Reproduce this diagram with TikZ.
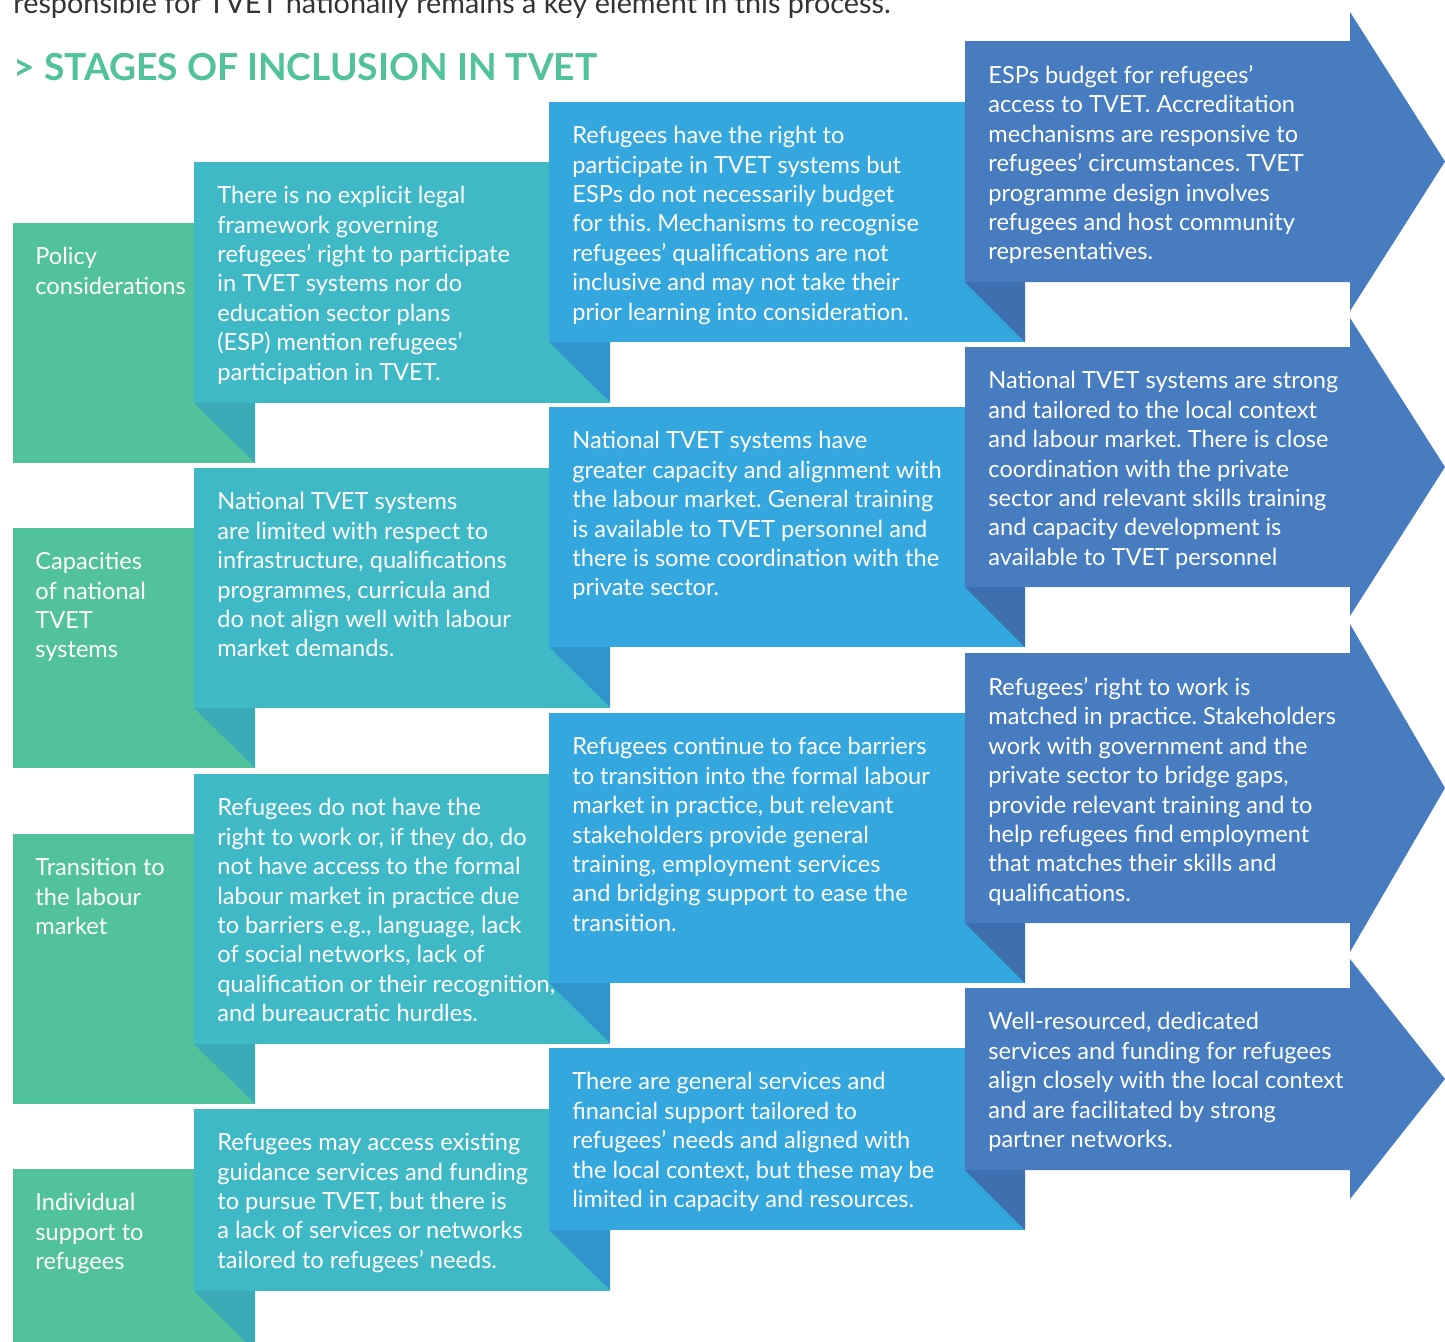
\documentclass[tikz,border=0pt]{standalone}
\usepackage{fontspec}
\setmainfont{Lato}
\frenchspacing
\usetikzlibrary{arrows}
\definecolor{lgreen}{HTML}{52C29B}
\definecolor{lteal}{HTML}{40B9C7}
\definecolor{dteal}{HTML}{3AABB7}
\definecolor{lblue}{HTML}{33A7DE}
\definecolor{dblue}{HTML}{2F95CB}
\definecolor{lnavy}{HTML}{477CC0}
\definecolor{dnavy}{HTML}{3E70B0}
\tikzstyle{txt}=[anchor=north west, align=left, inner sep=0pt, text=white, font=\fontsize{11.8}{14.7}\selectfont]

\begin{document}
\begin{tikzpicture}[x=0.5pt,y=-0.5pt]
\useasboundingbox (0,0) rectangle (1445,1341);
\node[anchor=base west, inner sep=0pt, text=black!80, font=\fontsize{14.4}{17}\selectfont] (intro) at (13,13) {responsible for TVET nationally remains a key element in this process.};
\node[anchor=base west, inner sep=0pt, text=lgreen, font=\fontsize{18.6}{22}\selectfont\bfseries] (title) at (13,80) {> STAGES OF INCLUSION IN TVET};
% green column
\foreach \t/\b in {223/463,528/768,834/1104,1169/1400}
\fill[lgreen] (13,\t) rectangle (255,\b);
% teal column, with the folds
\foreach \t/\b in {162/403,468/708,774/1044,1109/1291}{
\fill[lteal] (194,\t) rectangle (610,\b);
\fill[dteal] (194,\b) -- (255,\b) -- (255,\b+60) -- cycle;}
% blue column
\foreach \t/\b in {102/342,407/647,713/983,1048/1230}{
\fill[lblue] (549,\t) rectangle (1025,\b);
\fill[dblue] (549,\b) -- (610,\b) -- (610,\b+60) -- cycle;}
% arrows on the right
\foreach \t/\b in {41/282,347/587,653/923,988/1170}{
\fill[lnavy] (965,\t) -- (1350,\t) -- (1350,\t-29) -- (1445,{(\t+\b)/2}) -- (1350,\b+29) -- (1350,\b) -- (965,\b) -- cycle;
\fill[dnavy] (965,\b) -- (1025,\b) -- (1025,\b+60) -- cycle;}

\node[txt] (p1) at (35,247) {Policy\\considerations};
\node[txt] (c1) at (35,552) {Capacities\\of national\\TVET\\systems};
\node[txt] (t1) at (35,858) {Transition to\\the labour\\market};
\node[txt] (i1) at (35,1193) {Individual\\support to\\refugees};

\node[txt] (p2) at (217,186) {There is no explicit legal\\framework governing\\refugees’ right to participate\\in TVET systems nor do\\education sector plans\\(ESP) mention refugees’\\participation in TVET.};
\node[txt] (c2) at (217,492) {National TVET systems\\are limited with respect to\\infrastructure, qualifications\\programmes, curricula and\\do not align well with labour\\market demands.};
\node[txt] (t2) at (217,798) {Refugees do not have the\\right to work or, if they do, do\\not have access to the formal\\labour market in practice due\\to barriers e.g., language, lack\\of social networks, lack of\\qualification or their recognition,\\and bureaucratic hurdles.};
\node[txt] (i2) at (217,1133) {Refugees may access existing\\guidance services and funding\\to pursue TVET, but there is\\a lack of services or networks\\tailored to refugees’ needs.};

\node[txt] (p3) at (572,126) {Refugees have the right to\\participate in TVET systems but\\ESPs do not necessarily budget\\for this. Mechanisms to recognise\\refugees’ qualifications are not\\inclusive and may not take their\\prior learning into consideration.};
\node[txt] (c3) at (572,431) {National TVET systems have\\greater capacity and alignment with\\the labour market. General training\\is available to TVET personnel and\\there is some coordination with the\\private sector.};
\node[txt] (t3) at (572,737) {Refugees continue to face barriers\\to transition into the formal labour\\market in practice, but relevant\\stakeholders provide general\\training, employment services\\and bridging support to ease the\\transition.};
\node[txt] (i3) at (572,1072) {There are general services and\\financial support tailored to\\refugees’ needs and aligned with\\the local context, but these may be\\limited in capacity and resources.};

\node[txt] (p4) at (988,65) {ESPs budget for refugees’\\access to TVET. Accreditation\\mechanisms are responsive to\\refugees’ circumstances. TVET\\programme design involves\\refugees and host community\\representatives.};
\node[txt] (c4) at (988,371) {National TVET systems are strong\\and tailored to the local context\\and labour market. There is close\\coordination with the private\\sector and relevant skills training\\and capacity development is\\available to TVET personnel};
\node[txt] (t4) at (988,677) {Refugees’ right to work is\\matched in practice. Stakeholders\\work with government and the\\private sector to bridge gaps,\\provide relevant training and to\\help refugees find employment\\that matches their skills and\\qualifications.};
\node[txt] (i4) at (988,1012) {Well-resourced, dedicated\\services and funding for refugees\\align closely with the local context\\and are facilitated by strong\\partner networks.};
\end{tikzpicture}
\end{document}
